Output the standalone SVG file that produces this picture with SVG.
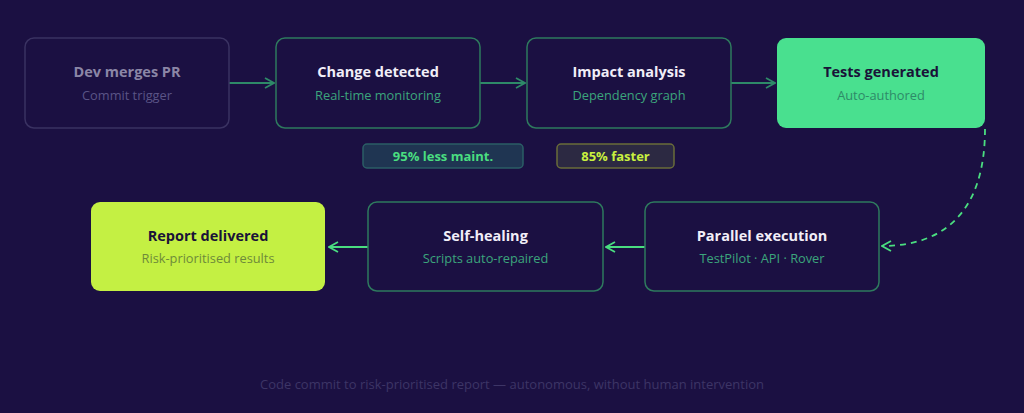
<svg xmlns="http://www.w3.org/2000/svg" width="1024" height="413" viewBox="0 0 1024 413">
<defs>
<style>
.bg{fill:#1b1042}
.node{fill:#1b1042;stroke:#2e7a5e;stroke-width:1.5}
.dim{fill:#1b1042;stroke:#3a3262;stroke-width:1.5}
.t{font-family:"Open Sans","Noto Sans",sans-serif;font-weight:700;font-size:14.5px;text-anchor:middle;fill:#f1eef8}
.s{font-family:"Open Sans","Noto Sans",sans-serif;font-size:12.8px;text-anchor:middle;fill:#3ba57c}
.conn{stroke:#2e8a68;stroke-width:1.8;fill:none}
.connb{stroke:#4ade80;stroke-width:1.8;fill:none}
.b{font-family:"Open Sans","Noto Sans",sans-serif;font-weight:700;font-size:13px;text-anchor:middle}
</style>
<marker id="a1" viewBox="0 0 12 12" refX="11" refY="6" markerWidth="12" markerHeight="12" markerUnits="userSpaceOnUse" orient="auto"><path d="M2 1 L11 6 L2 11" fill="none" stroke="#2e8a68" stroke-width="1.8"/></marker>
<marker id="a2" viewBox="0 0 12 12" refX="11" refY="6" markerWidth="12" markerHeight="12" markerUnits="userSpaceOnUse" orient="auto"><path d="M2 1 L11 6 L2 11" fill="none" stroke="#4ade80" stroke-width="1.8"/></marker>
</defs>
<rect class="bg" x="0" y="0" width="1024" height="413"/>
<g id="connectors">
<line class="conn" x1="229" y1="83" x2="274" y2="83" marker-end="url(#a1)"/>
<line class="conn" x1="480" y1="83" x2="525" y2="83" marker-end="url(#a1)"/>
<line class="conn" x1="731" y1="83" x2="775" y2="83" marker-end="url(#a1)"/>
<path class="connb" d="M985 129 C985 205 950 246 882 246" stroke-dasharray="6 5" marker-end="url(#a2)"/>
<line class="connb" x1="645" y1="247" x2="606" y2="247" marker-end="url(#a2)"/>
<line class="connb" x1="368" y1="247" x2="329" y2="247" marker-end="url(#a2)"/>
</g>
<g id="n1">
<rect class="dim" x="25" y="38" width="204" height="90" rx="9"/>
<text class="t" x="127" y="77" style="fill:#8b86a6">Dev merges PR</text>
<text class="s" x="127" y="100" style="fill:#5a5486">Commit trigger</text>
</g>
<g id="n2">
<rect class="node" x="276" y="38" width="204" height="90" rx="9"/>
<text class="t" x="378" y="77">Change detected</text>
<text class="s" x="378" y="100">Real-time monitoring</text>
</g>
<g id="n3">
<rect class="node" x="527" y="38" width="204" height="90" rx="9"/>
<text class="t" x="629" y="77">Impact analysis</text>
<text class="s" x="629" y="100">Dependency graph</text>
</g>
<g id="n4">
<rect x="777" y="38" width="208" height="90" rx="9" fill="#49e08f"/>
<text class="t" x="881" y="77" style="fill:#1a1238">Tests generated</text>
<text class="s" x="881" y="100" style="fill:#2e8a68">Auto-authored</text>
</g>
<g id="badge1">
<rect x="363" y="144" width="160" height="24" rx="4" fill="#1f3552" stroke="#2b5e66" stroke-width="1.5"/>
<text class="b" x="443" y="161" fill="#4ade80">95% less maint.</text>
</g>
<g id="badge2">
<rect x="557" y="144" width="117" height="24" rx="4" fill="#2c2942" stroke="#6a6c3a" stroke-width="1.5"/>
<text class="b" x="615.5" y="161" fill="#c8f03f">85% faster</text>
</g>
<g id="n5">
<rect x="91" y="202" width="234" height="89" rx="9" fill="#c4f043"/>
<text class="t" x="208" y="241" style="fill:#1a1238">Report delivered</text>
<text class="s" x="208" y="263" style="fill:#6e8a3a">Risk-prioritised results</text>
</g>
<g id="n6">
<rect class="node" x="368" y="202" width="235" height="89" rx="9"/>
<text class="t" x="485.5" y="241">Self-healing</text>
<text class="s" x="485.5" y="263">Scripts auto-repaired</text>
</g>
<g id="n7">
<rect class="node" x="645" y="202" width="234" height="89" rx="9"/>
<text class="t" x="762" y="241">Parallel execution</text>
<text class="s" x="762" y="263">TestPilot · API · Rover</text>
</g>
<text x="512" y="389" font-family="Open Sans, Noto Sans, sans-serif" font-size="13" text-anchor="middle" fill="#3d3566">Code commit to risk-prioritised report — autonomous, without human intervention</text>
</svg>
